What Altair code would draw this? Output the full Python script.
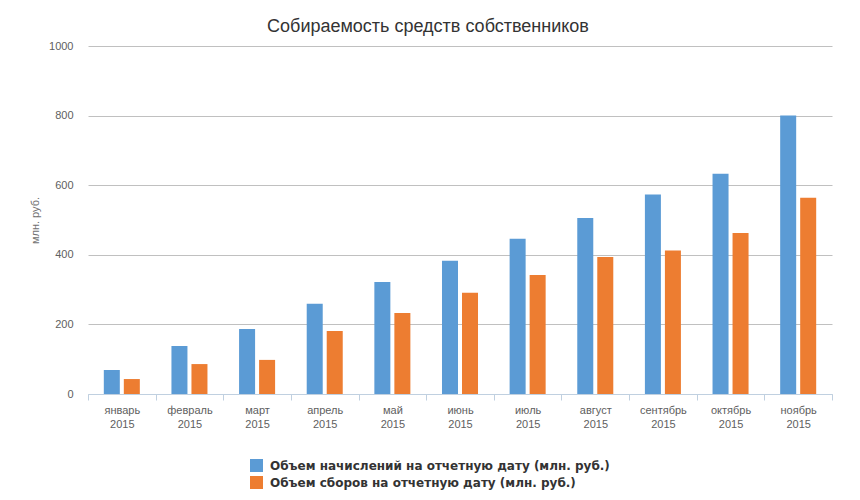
import altair as alt
import pandas as pd

months = ["январь 2015", "февраль 2015", "март 2015", "апрель 2015", "май 2015",
          "июнь 2015", "июль 2015", "август 2015", "сентябрь 2015", "октябрь 2015",
          "ноябрь 2015"]
series_names = ["Объем начислений на отчетную дату (млн. руб.)",
                "Объем сборов на отчетную дату (млн. руб.)"]
accrued = [69, 138, 187, 259, 322, 383, 446, 506, 573, 633, 800]
collected = [43, 86, 98, 181, 233, 291, 342, 394, 412, 463, 564]
colors = ["#5b9bd5", "#ed7d31"]

rows = []
for i, m in enumerate(months):
    rows.append({"month": m, "series": series_names[0], "value": accrued[i]})
    rows.append({"month": m, "series": series_names[1], "value": collected[i]})
df = pd.DataFrame(rows)

PLOT_LEFT, PLOT_TOP, PLOT_W, PLOT_H = 88, 46, 744, 348

chart = alt.Chart(df).mark_bar().encode(
    x=alt.X("month:N", sort=months, title=None,
            scale=alt.Scale(paddingInner=0, paddingOuter=0),
            axis=alt.Axis(labelAngle=0, labelExpr="split(datum.label, ' ')",
                          labelFont="Liberation Sans", labelFontSize=11,
                          labelColor="#606060", labelPadding=4, labelLineHeight=14,
                          domainColor="#c0d0e0", tickColor="#c0d0e0", tickSize=6,
                          tickBand="extent", grid=False)),
    xOffset=alt.XOffset("series:N", sort=series_names,
                        scale=alt.Scale(paddingInner=0.2, paddingOuter=0.79)),
    y=alt.Y("value:Q", title="млн. руб.",
            scale=alt.Scale(domain=[0, 1000], nice=False),
            axis=alt.Axis(values=[0, 200, 400, 600, 800, 1000], format="d",
                          domain=False, ticks=False,
                          labelFont="Liberation Sans", labelFontSize=11, labelColor="#606060",
                          labelPadding=15, gridColor="#c0c0c0", gridWidth=1,
                          titleFont="Liberation Sans", titleFontSize=11, titleFontWeight="normal",
                          titleColor="#707070", titlePadding=8)),
    color=alt.Color("series:N", sort=series_names,
                    scale=alt.Scale(domain=series_names, range=colors),
                    legend=alt.Legend(title=None, orient="none", legendX=162, legendY=413,
                                      direction="vertical", symbolType="square",
                                      symbolSize=169, symbolStrokeWidth=0,
                                      labelFont="DejaVu Sans", labelFontSize=12,
                                      labelFontWeight="bold", labelColor="#333333",
                                      labelLimit=0,
                                      labelOffset=7, rowPadding=4, padding=0)),
).properties(
    width=PLOT_W, height=PLOT_H,
    background="white",
    title=alt.TitleParams("Собираемость средств собственников", font="Liberation Sans",
                          fontSize=18, fontWeight="normal", color="#333333",
                          anchor="middle", baseline="bottom", offset=-14, dx=-32),
    autosize=alt.AutoSizeParams(type="none"),
    padding={"left": PLOT_LEFT, "top": PLOT_TOP, "right": 860 - PLOT_LEFT - PLOT_W,
             "bottom": 500 - PLOT_TOP - PLOT_H},
).configure_view(strokeWidth=0, stroke="transparent")

chart.save("out.html", embed_options={"renderer": "svg", "actions": False})
